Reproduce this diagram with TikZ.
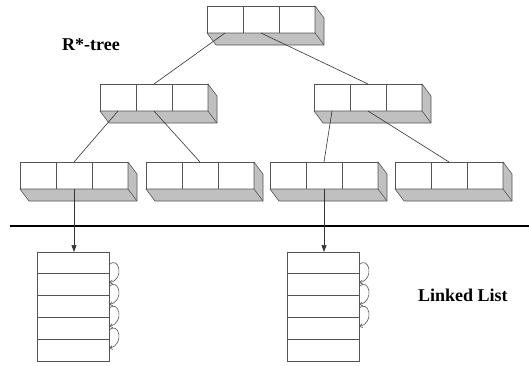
\documentclass[tikz,border=0pt]{standalone}
\usepackage{fontspec}
\setmainfont{Liberation Serif}
\usetikzlibrary{arrows.meta,calc}

\definecolor{edgec}{HTML}{555555}
\definecolor{shade}{HTML}{C0C0C0}

\tikzset{
  cell/.style={draw=edgec, fill=white, line width=0.6pt,
    minimum width=36pt, minimum height=27pt, inner sep=0pt, outer sep=0pt},
  face/.style={draw=edgec, fill=shade, line width=0.6pt, line join=round},
  link/.style={draw=black!80, line width=0.6pt},
  down/.style={link, -{Triangle[length=7pt,width=5pt]}},
  row/.style={draw=edgec, fill=white, line width=0.7pt,
    minimum width=72pt, minimum height=21.8pt, inner sep=0pt, outer sep=0pt},
  loop/.style={draw=edgec, line width=0.6pt, -{Straight Barb[length=3pt,width=4pt]}},
  lbl/.style={font=\bfseries\fontsize{18}{20}\selectfont, inner sep=0pt},
}

% a three-cell record with its shaded bottom and right faces
\newcommand\treebox[3]{%
  \node[cell, anchor=north west] (#1-1) at (#2,#3) {};
  \node[cell, anchor=west] (#1-2) at (#1-1.east) {};
  \node[cell, anchor=west] (#1-3) at (#1-2.east) {};
  \filldraw[face] (#1-1.south west) -- ++(9,12)
    -- ([shift={(9,12)}]#1-3.south east) -- ([shift={(9,12)}]#1-3.north east)
    -- (#1-3.north east) -- (#1-3.south east) -- cycle;
  \draw[face] (#1-3.south east) -- ++(9,12);
}

% a column of five list entries
\newcommand\listcol[3]{%
  \node[row, anchor=north west] (#1-1) at (#2,#3) {};
  \foreach \i [evaluate=\i as \j using int(\i-1)] in {2,...,5}
    \node[row, anchor=north] (#1-\i) at (#1-\j.south) {};
}

% curled pointer from one entry to the next
\newcommand\nextptr[2]{%
  \draw[loop] ([yshift=-2pt]#1.east) .. controls +(10,-10) and +(16,-3) .. ([yshift=2pt]#2.east);
}

\begin{document}
\begin{tikzpicture}[x=1pt,y=-1pt]
\useasboundingbox (0,0) rectangle (529,365);

% R*-tree records
\treebox{root}{207}{6}
\treebox{ma}{100}{84}
\treebox{mb}{314}{84}
\treebox{la}{20}{162}
\treebox{lb}{146}{162}
\treebox{lc}{270}{162}
\treebox{ld}{395}{162}

% tree edges
\draw[link] (root-1.south) -- (ma-2.north);
\draw[link] (root-2.south) -- (mb-2.north);
\draw[link] (ma-1.south) -- (la-2.north);
\draw[link] (ma-2.south) -- (lb-2.north);
\draw[link] (mb-1.south) -- (lc-2.north);
\draw[link] (mb-2.south) -- (ld-2.north);

% separator
\coordinate (sepL) at (10,226);
\coordinate (sepR) at (529,226);
\draw[line width=2.4pt] (sepL) -- (sepR);

% linked lists
\listcol{ka}{37}{252}
\listcol{kb}{287}{252}

\draw[down] (la-2.south) -- (la-2.south |- ka-1.north);
\draw[down] (lc-2.south) -- (lc-2.south |- kb-1.north);

\nextptr{ka-1}{ka-2}
\nextptr{ka-2}{ka-3}
\nextptr{ka-3}{ka-4}
\nextptr{ka-4}{ka-5}
\nextptr{kb-1}{kb-2}
\nextptr{kb-2}{kb-3}
\nextptr{kb-3}{kb-4}

% labels
\node[lbl, anchor=base west] (rtree) at (62,50) {R*-tree};
\node[lbl, anchor=base west] (llist) at (418,301) {Linked List};
\end{tikzpicture}
\end{document}
